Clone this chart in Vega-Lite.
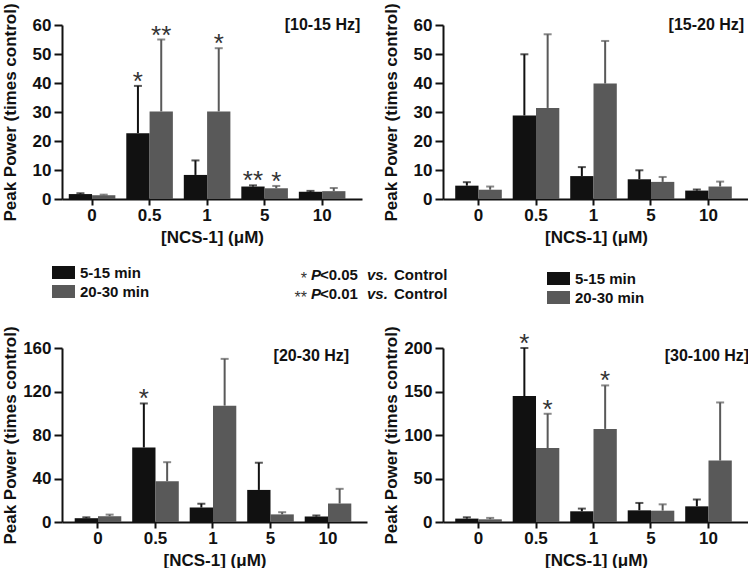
{
  "$schema": "https://vega.github.io/schema/vega-lite/v6.json",
  "padding": {"left": 0, "top": 2, "right": 0, "bottom": 0},
  "background": "white",
  "bounds": "flush",
  "columns": 2,
  "spacing": {"row": 45.5, "column": 76},
  "datasets": {
    "bars": [
      {"p": "A", "conc": "0", "t": "5-15 min", "v": 1.7, "e": 2.0, "s": ""},
      {"p": "A", "conc": "0", "t": "20-30 min", "v": 1.3, "e": 1.5, "s": ""},
      {"p": "A", "conc": "0.5", "t": "5-15 min", "v": 22.7, "e": 39.0, "s": "*"},
      {"p": "A", "conc": "0.5", "t": "20-30 min", "v": 30.2, "e": 55.0, "s": "**"},
      {"p": "A", "conc": "1", "t": "5-15 min", "v": 8.3, "e": 13.3, "s": ""},
      {"p": "A", "conc": "1", "t": "20-30 min", "v": 30.2, "e": 52.0, "s": "*"},
      {"p": "A", "conc": "5", "t": "5-15 min", "v": 4.3, "e": 4.7, "s": "**"},
      {"p": "A", "conc": "5", "t": "20-30 min", "v": 3.7, "e": 4.5, "s": "*"},
      {"p": "A", "conc": "10", "t": "5-15 min", "v": 2.5, "e": 2.8, "s": ""},
      {"p": "A", "conc": "10", "t": "20-30 min", "v": 2.7, "e": 3.8, "s": ""},
      {"p": "B", "conc": "0", "t": "5-15 min", "v": 4.6, "e": 5.8, "s": ""},
      {"p": "B", "conc": "0", "t": "20-30 min", "v": 3.2, "e": 4.3, "s": ""},
      {"p": "B", "conc": "0.5", "t": "5-15 min", "v": 28.8, "e": 49.9, "s": ""},
      {"p": "B", "conc": "0.5", "t": "20-30 min", "v": 31.4, "e": 56.8, "s": ""},
      {"p": "B", "conc": "1", "t": "5-15 min", "v": 7.9, "e": 11.0, "s": ""},
      {"p": "B", "conc": "1", "t": "20-30 min", "v": 39.8, "e": 54.5, "s": ""},
      {"p": "B", "conc": "5", "t": "5-15 min", "v": 6.8, "e": 9.9, "s": ""},
      {"p": "B", "conc": "5", "t": "20-30 min", "v": 5.9, "e": 7.6, "s": ""},
      {"p": "B", "conc": "10", "t": "5-15 min", "v": 2.9, "e": 3.3, "s": ""},
      {"p": "B", "conc": "10", "t": "20-30 min", "v": 4.3, "e": 6.0, "s": ""},
      {"p": "C", "conc": "0", "t": "5-15 min", "v": 3.5, "e": 4.3, "s": ""},
      {"p": "C", "conc": "0", "t": "20-30 min", "v": 5.3, "e": 6.8, "s": ""},
      {"p": "C", "conc": "0.5", "t": "5-15 min", "v": 68.5, "e": 109, "s": "*"},
      {"p": "C", "conc": "0.5", "t": "20-30 min", "v": 37.5, "e": 55, "s": ""},
      {"p": "C", "conc": "1", "t": "5-15 min", "v": 13.3, "e": 16.8, "s": ""},
      {"p": "C", "conc": "1", "t": "20-30 min", "v": 107, "e": 150, "s": ""},
      {"p": "C", "conc": "5", "t": "5-15 min", "v": 29.5, "e": 54.5, "s": ""},
      {"p": "C", "conc": "5", "t": "20-30 min", "v": 7, "e": 9, "s": ""},
      {"p": "C", "conc": "10", "t": "5-15 min", "v": 5, "e": 6, "s": ""},
      {"p": "C", "conc": "10", "t": "20-30 min", "v": 17, "e": 30.5, "s": ""},
      {"p": "D", "conc": "0", "t": "5-15 min", "v": 3.9, "e": 5.4, "s": ""},
      {"p": "D", "conc": "0", "t": "20-30 min", "v": 3.1, "e": 4.7, "s": ""},
      {"p": "D", "conc": "0.5", "t": "5-15 min", "v": 144.7, "e": 200, "s": "*"},
      {"p": "D", "conc": "0.5", "t": "20-30 min", "v": 85, "e": 124.4, "s": "*"},
      {"p": "D", "conc": "1", "t": "5-15 min", "v": 12.3, "e": 15.4, "s": ""},
      {"p": "D", "conc": "1", "t": "20-30 min", "v": 107, "e": 157, "s": "*"},
      {"p": "D", "conc": "5", "t": "5-15 min", "v": 13.4, "e": 21.9, "s": ""},
      {"p": "D", "conc": "5", "t": "20-30 min", "v": 13, "e": 20.3, "s": ""},
      {"p": "D", "conc": "10", "t": "5-15 min", "v": 18, "e": 26, "s": ""},
      {"p": "D", "conc": "10", "t": "20-30 min", "v": 70.6, "e": 137.4, "s": ""}
    ],
    "notes": [
      {"line": "1", "star": "*", "cmp": "<0.05"},
      {"line": "2", "star": "**", "cmp": "<0.01"}
    ],
    "empty": []
  },
  "resolve": {"scale": {"color": "independent"}, "legend": {"color": "independent"}},
  "concat": [
    {
      "width": 300, "height": 174,
      "data": {"name": "bars"},
      "transform": [{"filter": "datum.p == 'A'"}],
      "encoding": {
        "x": {"field": "conc", "type": "nominal", "sort": ["0", "0.5", "1", "5", "10"], "scale": {"paddingInner": 0.19, "paddingOuter": 0.203, "align": 0.29}, "axis": {"title": "[NCS-1] (μM)"}},
        "xOffset": {"field": "t", "type": "nominal", "sort": ["5-15 min", "20-30 min"], "scale": {"paddingInner": 0, "paddingOuter": 0}}
      },
      "layer": [
        {"mark": {"type": "bar"}, "encoding": {
          "y": {"field": "v", "type": "quantitative", "scale": {"domain": [0, 60], "nice": false}, "axis": {"title": "Peak Power (times control)", "values": [0, 10, 20, 30, 40, 50, 60]}},
          "color": {"field": "t", "type": "nominal", "sort": ["5-15 min", "20-30 min"], "scale": {"domain": ["5-15 min", "20-30 min"], "range": ["#111111", "#595959"]},
            "legend": {"orient": "none", "legendX": -6, "legendY": 240, "title": null, "direction": "vertical", "symbolType": "M-1.77,-1H1.77V1H-1.77Z", "symbolSize": 169, "symbolStrokeWidth": 0, "symbolOpacity": 1, "labelFontSize": 15, "labelFont": "Liberation Sans", "labelFontWeight": "bold", "labelColor": "#111111", "labelOffset": 9, "rowPadding": 3, "padding": 0}}
        }},
        {"mark": {"type": "rule", "strokeWidth": 2}, "encoding": {
          "y": {"field": "v", "type": "quantitative", "axis": {"title": "Peak Power (times control)", "values": [0, 10, 20, 30, 40, 50, 60]}}, "y2": {"field": "e"},
          "stroke": {"field": "t", "type": "nominal", "scale": {"domain": ["5-15 min", "20-30 min"], "range": ["#111111", "#595959"]}, "legend": null}
        }},
        {"mark": {"type": "tick", "thickness": 2, "size": 8}, "encoding": {
          "y": {"field": "e", "type": "quantitative", "axis": {"title": "Peak Power (times control)", "values": [0, 10, 20, 30, 40, 50, 60]}},
          "fill": {"field": "t", "type": "nominal", "scale": {"domain": ["5-15 min", "20-30 min"], "range": ["#111111", "#595959"]}, "legend": null}
        }},
        {"mark": {"type": "text", "font": "Liberation Sans", "fontSize": 26, "baseline": "alphabetic", "dy": 4, "color": "#333333"}, "encoding": {
          "y": {"field": "e", "type": "quantitative", "axis": {"title": "Peak Power (times control)", "values": [0, 10, 20, 30, 40, 50, 60]}}, "text": {"field": "s"}
        }},
        {"transform": [{"filter": "datum.conc == '10' && datum.t == '20-30 min'"}],
          "mark": {"type": "text", "font": "Liberation Sans", "fontSize": 16, "fontWeight": "bold", "align": "right", "baseline": "alphabetic", "dx": 26.5, "dy": 5, "color": "#111111"},
          "encoding": {"y": {"datum": 60, "type": "quantitative", "axis": {"title": "Peak Power (times control)", "values": [0, 10, 20, 30, 40, 50, 60]}}, "text": {"value": "[10-15 Hz]"}}}
      ]
    },
    {
      "width": 306, "height": 174,
      "data": {"name": "bars"},
      "transform": [{"filter": "datum.p == 'B'"}],
      "encoding": {
        "x": {"field": "conc", "type": "nominal", "sort": ["0", "0.5", "1", "5", "10"], "scale": {"paddingInner": 0.19, "paddingOuter": 0.256, "align": 0.415}, "axis": {"title": "[NCS-1] (μM)"}},
        "xOffset": {"field": "t", "type": "nominal", "sort": ["5-15 min", "20-30 min"], "scale": {"paddingInner": 0, "paddingOuter": 0}}
      },
      "layer": [
        {"mark": {"type": "bar"}, "encoding": {
          "y": {"field": "v", "type": "quantitative", "scale": {"domain": [0, 60], "nice": false}, "axis": {"title": "Peak Power (times control)", "values": [0, 10, 20, 30, 40, 50, 60]}},
          "color": {"field": "t", "type": "nominal", "sort": ["5-15 min", "20-30 min"], "scale": {"domain": ["5-15 min", "20-30 min"], "range": ["#111111", "#595959"]},
            "legend": {"orient": "none", "legendX": 108, "legendY": 246, "title": null, "direction": "vertical", "symbolType": "M-1.77,-1H1.77V1H-1.77Z", "symbolSize": 169, "symbolStrokeWidth": 0, "symbolOpacity": 1, "labelFontSize": 15, "labelFont": "Liberation Sans", "labelFontWeight": "bold", "labelColor": "#111111", "labelOffset": 9, "rowPadding": 3, "padding": 0}}
        }},
        {"mark": {"type": "rule", "strokeWidth": 2}, "encoding": {
          "y": {"field": "v", "type": "quantitative", "axis": {"title": "Peak Power (times control)", "values": [0, 10, 20, 30, 40, 50, 60]}}, "y2": {"field": "e"},
          "stroke": {"field": "t", "type": "nominal", "scale": {"domain": ["5-15 min", "20-30 min"], "range": ["#111111", "#595959"]}, "legend": null}
        }},
        {"mark": {"type": "tick", "thickness": 2, "size": 8}, "encoding": {
          "y": {"field": "e", "type": "quantitative", "axis": {"title": "Peak Power (times control)", "values": [0, 10, 20, 30, 40, 50, 60]}},
          "fill": {"field": "t", "type": "nominal", "scale": {"domain": ["5-15 min", "20-30 min"], "range": ["#111111", "#595959"]}, "legend": null}
        }},
        {"transform": [{"filter": "datum.conc == '10' && datum.t == '20-30 min'"}],
          "mark": {"type": "text", "font": "Liberation Sans", "fontSize": 16, "fontWeight": "bold", "align": "right", "baseline": "alphabetic", "dx": 24, "dy": 5, "color": "#111111"},
          "encoding": {"y": {"datum": 60, "type": "quantitative", "axis": {"title": "Peak Power (times control)", "values": [0, 10, 20, 30, 40, 50, 60]}}, "text": {"value": "[15-20 Hz]"}}}
      ]
    },
    {
      "width": 305, "height": 58,
      "data": {"name": "notes"},
      "encoding": {"y": {"field": "line", "type": "ordinal", "axis": null, "scale": {"type": "point", "padding": 1.206, "align": 0.793}}},
      "layer": [
        {"mark": {"type": "text", "align": "right", "dx": 92.5, "dy": 4, "font": "Liberation Sans", "fontSize": 16, "color": "#333333", "baseline": "middle"}, "encoding": {"text": {"field": "star"}}},
        {"mark": {"type": "text", "align": "left", "dx": 96.5, "font": "Liberation Sans", "fontSize": 15, "fontWeight": "bold", "fontStyle": "italic", "color": "#111111", "baseline": "middle"}, "encoding": {"text": {"value": "P"}}},
        {"mark": {"type": "text", "align": "left", "dx": 105.5, "font": "Liberation Sans", "fontSize": 15, "fontWeight": "bold", "color": "#111111", "baseline": "middle"}, "encoding": {"text": {"field": "cmp"}}},
        {"mark": {"type": "text", "align": "left", "dx": 152.5, "font": "Liberation Sans", "fontSize": 15, "fontWeight": "bold", "fontStyle": "italic", "color": "#111111", "baseline": "middle"}, "encoding": {"text": {"value": "vs."}}},
        {"mark": {"type": "text", "align": "left", "dx": 179.5, "font": "Liberation Sans", "fontSize": 15, "fontWeight": "bold", "color": "#111111", "baseline": "middle"}, "encoding": {"text": {"value": "Control"}}}
      ]
    },
    {
      "width": 1, "height": 1,
      "data": {"name": "empty"},
      "mark": {"type": "point", "opacity": 0},
      "encoding": {}
    },
    {
      "width": 305, "height": 174,
      "data": {"name": "bars"},
      "transform": [{"filter": "datum.p == 'C'"}],
      "encoding": {
        "x": {"field": "conc", "type": "nominal", "sort": ["0", "0.5", "1", "5", "10"], "scale": {"paddingInner": 0.19, "paddingOuter": 0.247, "align": 0.447}, "axis": {"title": "[NCS-1] (μM)"}},
        "xOffset": {"field": "t", "type": "nominal", "sort": ["5-15 min", "20-30 min"], "scale": {"paddingInner": 0, "paddingOuter": 0}}
      },
      "layer": [
        {"mark": {"type": "bar"}, "encoding": {
          "y": {"field": "v", "type": "quantitative", "scale": {"domain": [0, 160], "nice": false}, "axis": {"title": "Peak Power (times control)", "values": [0, 40, 80, 120, 160]}},
          "color": {"field": "t", "type": "nominal", "scale": {"domain": ["5-15 min", "20-30 min"], "range": ["#111111", "#595959"]}, "legend": null}
        }},
        {"mark": {"type": "rule", "strokeWidth": 2}, "encoding": {
          "y": {"field": "v", "type": "quantitative", "axis": {"title": "Peak Power (times control)", "values": [0, 40, 80, 120, 160]}}, "y2": {"field": "e"},
          "stroke": {"field": "t", "type": "nominal", "scale": {"domain": ["5-15 min", "20-30 min"], "range": ["#111111", "#595959"]}, "legend": null}
        }},
        {"mark": {"type": "tick", "thickness": 2, "size": 8}, "encoding": {
          "y": {"field": "e", "type": "quantitative", "axis": {"title": "Peak Power (times control)", "values": [0, 40, 80, 120, 160]}},
          "fill": {"field": "t", "type": "nominal", "scale": {"domain": ["5-15 min", "20-30 min"], "range": ["#111111", "#595959"]}, "legend": null}
        }},
        {"mark": {"type": "text", "font": "Liberation Sans", "fontSize": 26, "baseline": "alphabetic", "dy": 4, "color": "#333333"}, "encoding": {
          "y": {"field": "e", "type": "quantitative", "axis": {"title": "Peak Power (times control)", "values": [0, 40, 80, 120, 160]}}, "text": {"field": "s"}
        }},
        {"transform": [{"filter": "datum.conc == '10' && datum.t == '20-30 min'"}],
          "mark": {"type": "text", "font": "Liberation Sans", "fontSize": 16, "fontWeight": "bold", "align": "right", "baseline": "alphabetic", "dx": 9.5, "dy": 13, "color": "#111111"},
          "encoding": {"y": {"datum": 160, "type": "quantitative", "axis": {"title": "Peak Power (times control)", "values": [0, 40, 80, 120, 160]}}, "text": {"value": "[20-30 Hz]"}}}
      ]
    },
    {
      "width": 306, "height": 174,
      "data": {"name": "bars"},
      "transform": [{"filter": "datum.p == 'D'"}],
      "encoding": {
        "x": {"field": "conc", "type": "nominal", "sort": ["0", "0.5", "1", "5", "10"], "scale": {"paddingInner": 0.19, "paddingOuter": 0.256, "align": 0.415}, "axis": {"title": "[NCS-1] (μM)"}},
        "xOffset": {"field": "t", "type": "nominal", "sort": ["5-15 min", "20-30 min"], "scale": {"paddingInner": 0, "paddingOuter": 0}}
      },
      "layer": [
        {"mark": {"type": "bar"}, "encoding": {
          "y": {"field": "v", "type": "quantitative", "scale": {"domain": [0, 200], "nice": false}, "axis": {"title": "Peak Power (times control)", "values": [0, 50, 100, 150, 200]}},
          "color": {"field": "t", "type": "nominal", "scale": {"domain": ["5-15 min", "20-30 min"], "range": ["#111111", "#595959"]}, "legend": null}
        }},
        {"mark": {"type": "rule", "strokeWidth": 2}, "encoding": {
          "y": {"field": "v", "type": "quantitative", "axis": {"title": "Peak Power (times control)", "values": [0, 50, 100, 150, 200]}}, "y2": {"field": "e"},
          "stroke": {"field": "t", "type": "nominal", "scale": {"domain": ["5-15 min", "20-30 min"], "range": ["#111111", "#595959"]}, "legend": null}
        }},
        {"mark": {"type": "tick", "thickness": 2, "size": 8}, "encoding": {
          "y": {"field": "e", "type": "quantitative", "axis": {"title": "Peak Power (times control)", "values": [0, 50, 100, 150, 200]}},
          "fill": {"field": "t", "type": "nominal", "scale": {"domain": ["5-15 min", "20-30 min"], "range": ["#111111", "#595959"]}, "legend": null}
        }},
        {"mark": {"type": "text", "font": "Liberation Sans", "fontSize": 26, "baseline": "alphabetic", "dy": 4, "color": "#333333"}, "encoding": {
          "y": {"field": "e", "type": "quantitative", "axis": {"title": "Peak Power (times control)", "values": [0, 50, 100, 150, 200]}}, "text": {"field": "s"}
        }},
        {"transform": [{"filter": "datum.conc == '10' && datum.t == '20-30 min'"}],
          "mark": {"type": "text", "font": "Liberation Sans", "fontSize": 16, "fontWeight": "bold", "align": "right", "baseline": "alphabetic", "dx": 29, "dy": 13, "color": "#111111"},
          "encoding": {"y": {"datum": 200, "type": "quantitative", "axis": {"title": "Peak Power (times control)", "values": [0, 50, 100, 150, 200]}}, "text": {"value": "[30-100 Hz]"}}}
      ]
    }
  ],
  "config": {
    "view": {"stroke": null},
    "axis": {"grid": false, "domainColor": "#111111", "domainWidth": 2, "tickColor": "#111111", "tickWidth": 2, "labelFont": "Liberation Sans", "labelFontSize": 17, "labelFontWeight": "bold", "labelColor": "#111111", "titleFont": "Liberation Sans", "titleFontSize": 17, "titleFontWeight": "bold", "titleColor": "#111111"},
    "axisX": {"tickSize": 6, "labelPadding": 2, "titlePadding": 6, "labelAngle": 0},
    "axisY": {"tickSize": 8, "labelPadding": 3, "titleX": -43, "titleY": 87},
    "title": {"font": "Liberation Sans", "fontSize": 16, "fontWeight": "bold", "color": "#111111"}
  }
}
